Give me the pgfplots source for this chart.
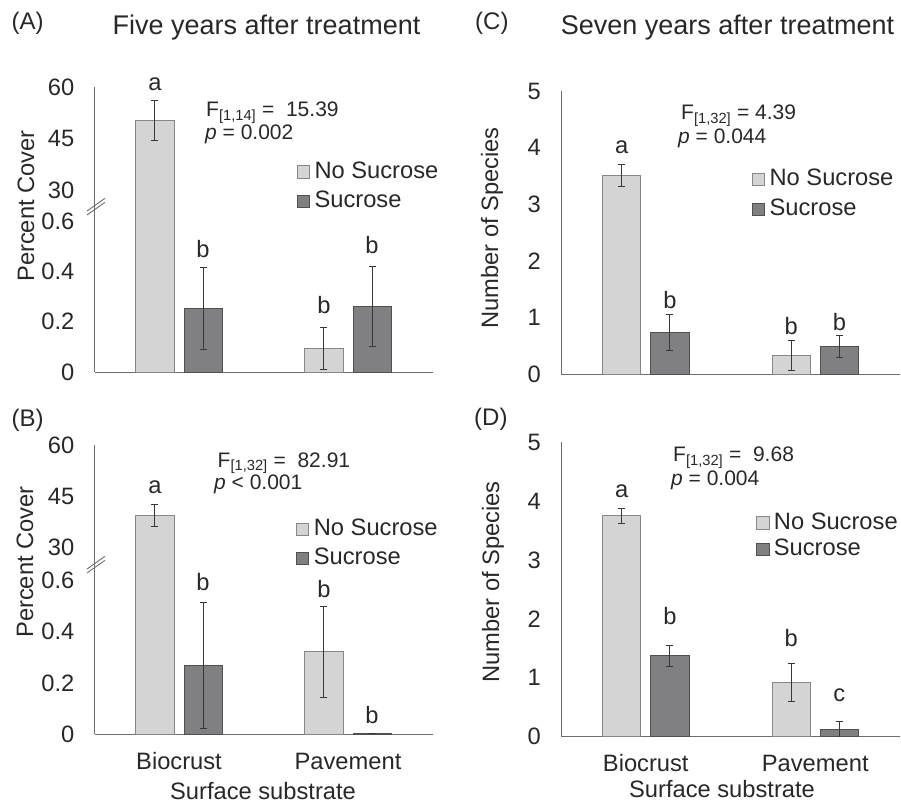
\documentclass[border=0pt]{standalone}
\usepackage{pgfplots}
\usepackage{pgfplotstable}
\pgfplotsset{compat=1.18}
\usepackage{fontspec}
\setmainfont{Liberation Sans}
\definecolor{lightfill}{RGB}{212,212,212}
\definecolor{lightedge}{RGB}{135,135,135}
\definecolor{darkfill}{RGB}{128,128,130}
\definecolor{darkedge}{RGB}{80,80,80}
\definecolor{axisgray}{RGB}{110,110,110}
\definecolor{txt}{RGB}{40,40,40}
\definecolor{errc}{RGB}{55,55,55}
\newcommand\fs{\fontsize{23.7}{28}\selectfont}
\newcommand\fst{\fontsize{21}{25}\selectfont}
\newcommand\fsT{\fontsize{27}{32}\selectfont}
\newcommand\fsP{\fontsize{24}{28}\selectfont}

% Panel A: five years, percent cover
\pgfplotstableread{
x y e
0 50.2 5.8
1 0.094 0.082
}\ANo
\pgfplotstableread{
x y e
0 0.253 0.162
1 0.262 0.160
}\ASu
% Panel B: seven years, percent cover
\pgfplotstableread{
x y e
0 39.2 3.2
1 0.322 0.177
}\BNo
\pgfplotstableread{
x y e
0 0.269 0.247
1 0.003 0.0
}\BSu
% Panel C: five years, number of species
\pgfplotstableread{
x y e
0 3.50 0.195
1 0.33 0.26
}\CNo
\pgfplotstableread{
x y e
0 0.74 0.318
1 0.48 0.195
}\CSu
% Panel D: seven years, number of species
\pgfplotstableread{
x y e
0 3.75 0.13
1 0.92 0.32
}\DNo
\pgfplotstableread{
x y e
0 1.37 0.18
1 0.12 0.135
}\DSu

\tikzset{lett/.style={anchor=base, inner sep=0pt, font=\fs, text=txt}}
\pgfplotsset{
  base/.style={
    scale only axis, anchor=south west,
    xmin=-0.5, xmax=1.5,
    ybar, bar width=0.2255,
    axis line style={draw=axisgray, line width=1pt, -},
    major tick length=0pt,
    tick style={draw=none},
    ticklabel style={font=\fs, text=txt},
    yticklabel style={anchor=east, inner sep=0pt, xshift=-20pt},
    xticklabel style={anchor=base, inner sep=0pt, yshift=-35pt},
    /pgf/number format/assume math mode=true,
    clip mode=individual,
    xtick=\empty,
  },
  lower/.style={base, axis x line*=bottom, axis y line*=left},
  upper/.style={base, axis x line=none, axis y line*=left},
  leg/.style={legend style={at={#1}, anchor=north west, draw=none, fill=none,
      inner sep=0pt, outer sep=0pt, column sep=4.5pt, font=\fs, text=txt,
      cells={anchor=base west}, nodes={inner sep=0pt, text height=17pt, text depth=0pt}}},
  nos/.style={fill=lightfill, draw=lightedge, line width=0.9pt, bar shift=-0.1424,
    legend image code/.code={\draw[##1] (0pt,0pt) rectangle (12.5pt,12.5pt);},
    error bars/.cd, y dir=both, y explicit,
    error bar style={draw=errc, line width=0.9pt},
    error mark options={rotate=90, draw=errc, line width=0.9pt, mark size=3.5pt}},
  suc/.style={fill=darkfill, draw=darkedge, line width=0.9pt, bar shift=0.1424,
    legend image code/.code={\draw[##1] (0pt,0pt) rectangle (12.5pt,12.5pt);},
    error bars/.cd, y dir=both, y explicit,
    error bar style={draw=errc, line width=0.9pt},
    error mark options={rotate=90, draw=errc, line width=0.9pt, mark size=3.5pt}},
}

\begin{document}
\begin{tikzpicture}
\useasboundingbox (0,0) rectangle (901pt,804pt);

% ================= Panel A (lower part) =================
\begin{axis}[lower, at={(94.5pt,432pt)}, width=338pt, height=160.64pt,
  ymin=0, ymax=0.64, ytick={0,0.2,0.4,0.6}, yticklabels={0,0.2,0.4,0.6},
  leg={(0.598,1.3116)}, legend style={row sep=11.7pt}]
\addplot[nos] table[x=x, y=y, y error=e] {\ANo};
\addplot[suc] table[x=x, y=y, y error=e] {\ASu};
\legend{No Sucrose, Sucrose}
\node[lett] at (axis cs:0.1424,0.458) {b};
\node[lett] at (axis cs:0.8576,0.233) {b};
\node[lett] at (axis cs:1.1424,0.472) {b};
\end{axis}
% Panel A (upper part, above the axis break)
\begin{scope}
\clip (0pt,582.6pt) rectangle (450pt,804pt);
\begin{axis}[upper, at={(94.5pt,548.27pt)}, width=338pt, height=168.73pt,
  ymin=10.85, ymax=60, ytick={30,45,60}, yticklabels={30,45,60},
  restrict y to domain=20:100]
\addplot[nos] table[x=x, y=y, y error=e] {\ANo};
\node[lett] at (axis cs:-0.1424,58.9) {a};
\end{axis}
\end{scope}

% ================= Panel B (lower part) =================
\begin{axis}[lower, at={(94.5pt,70pt)}, width=338pt, height=163.52pt,
  ymin=0, ymax=0.64, ytick={0,0.2,0.4,0.6}, yticklabels={0,0.2,0.4,0.6},
  xtick={0,1}, xticklabels={Biocrust,Pavement},
  leg={(0.596,1.3166)}, legend style={row sep=11.3pt}]
\addplot[nos] table[x=x, y=y, y error=e] {\BNo};
\addplot[suc] table[x=x, y=y, y error=e] {\BSu};
\legend{No Sucrose, Sucrose}
\node[lett] at (axis cs:0.1424,0.56) {b};
\node[lett] at (axis cs:0.8576,0.533) {b};
\node[lett] at (axis cs:1.1424,0.042) {b};
\end{axis}
% Panel B (upper part, above the axis break)
\begin{scope}
\clip (0pt,223.3pt) rectangle (450pt,400pt);
\begin{axis}[upper, at={(94.5pt,189.26pt)}, width=338pt, height=169.74pt,
  ymin=10.14, ymax=60, ytick={30,45,60}, yticklabels={30,45,60},
  restrict y to domain=20:100]
\addplot[nos] table[x=x, y=y, y error=e] {\BNo};
\node[lett] at (axis cs:-0.1424,45.7) {a};
\end{axis}
\end{scope}

% ================= Panel C =================
\begin{axis}[lower, at={(561pt,430pt)}, width=339pt, height=283pt,
  ymin=0, ymax=5, ytick={0,1,2,3,4,5},
  leg={(0.5625,0.7254)}, legend style={row sep=12.3pt}]
\addplot[nos] table[x=x, y=y, y error=e] {\CNo};
\addplot[suc] table[x=x, y=y, y error=e] {\CSu};
\legend{No Sucrose, Sucrose}
\node[lett] at (axis cs:-0.1424,3.887) {a};
\node[lett] at (axis cs:0.1424,1.16) {b};
\node[lett] at (axis cs:0.8576,0.69) {b};
\node[lett] at (axis cs:1.1424,0.777) {b};
\end{axis}

% ================= Panel D =================
\begin{axis}[lower, at={(561pt,67.4pt)}, width=339pt, height=294.6pt,
  ymin=0, ymax=5, ytick={0,1,2,3,4,5},
  xtick={0,1}, xticklabels={Biocrust,Pavement},
  leg={(0.5752,0.7614)}, legend style={row sep=8.7pt}]
\addplot[nos] table[x=x, y=y, y error=e] {\DNo};
\addplot[suc] table[x=x, y=y, y error=e] {\DSu};
\legend{No Sucrose, Sucrose}
\node[lett] at (axis cs:-0.1424,4.06) {a};
\node[lett] at (axis cs:0.1424,1.895) {b};
\node[lett] at (axis cs:0.8576,1.526) {b};
\node[lett] at (axis cs:1.1424,0.593) {c};
\end{axis}

% axis break marks
\draw[axisgray, line width=0.9pt] (87pt,593pt) -- (105pt,605.7pt);
\draw[axisgray, line width=0.9pt] (87pt,589pt) -- (105pt,601.7pt);
\draw[axisgray, line width=0.9pt] (87pt,235pt) -- (105pt,247.7pt);
\draw[axisgray, line width=0.9pt] (87pt,231pt) -- (105pt,243.7pt);

% titles and panel labels
\node[anchor=base, font=\fsT, text=txt, inner sep=0pt] at (266.5pt,769.7pt) {Five years after treatment};
\node[anchor=base, font=\fsT, text=txt, inner sep=0pt] at (727.5pt,769.7pt) {Seven years after treatment};
\node[anchor=base west, font=\fsP, text=txt, inner sep=0pt] at (11.5pt,774pt) {(A)};
\node[anchor=base west, font=\fsP, text=txt, inner sep=0pt] at (475pt,774pt) {(C)};
\node[anchor=base west, font=\fsP, text=txt, inner sep=0pt] at (11.5pt,377.3pt) {(B)};
\node[anchor=base west, font=\fsP, text=txt, inner sep=0pt] at (474pt,378.3pt) {(D)};

% axis labels
\node[rotate=90, font=\fs, text=txt, inner sep=0pt] at (26pt,598pt) {Percent Cover};
\node[rotate=90, font=\fs, text=txt, inner sep=0pt] at (25pt,242pt) {Percent Cover};
\node[rotate=90, font=\fs, text=txt, inner sep=0pt] at (492pt,576pt) {Number of Species};
\node[rotate=90, font=\fs, text=txt, inner sep=0pt] at (493pt,222pt) {Number of Species};
\node[anchor=base, font=\fs, text=txt, inner sep=0pt] at (263pt,4.5pt) {Surface substrate};
\node[anchor=base, font=\fs, text=txt, inner sep=0pt] at (722pt,6.5pt) {Surface substrate};

% statistics
\node[anchor=base west, font=\fst, text=txt, inner sep=0pt] at (206pt,687.3pt) {F\textsubscript{[1,14]} =\ \ 15.39};
\node[anchor=base west, font=\fst, text=txt, inner sep=0pt] at (205pt,664pt) {\textit{p} = 0.002};
\node[anchor=base west, font=\fst, text=txt, inner sep=0pt] at (217.5pt,336.7pt) {F\textsubscript{[1,32]} =\ \ 82.91};
\node[anchor=base west, font=\fst, text=txt, inner sep=0pt] at (214pt,314.7pt) {\textit{p} < 0.001};
\node[anchor=base west, font=\fst, text=txt, inner sep=0pt] at (681pt,684pt) {F\textsubscript{[1,32]} = 4.39};
\node[anchor=base west, font=\fst, text=txt, inner sep=0pt] at (678pt,660.7pt) {\textit{p} = 0.044};
\node[anchor=base west, font=\fst, text=txt, inner sep=0pt] at (673pt,342.3pt) {F\textsubscript{[1,32]} =\ \ 9.68};
\node[anchor=base west, font=\fst, text=txt, inner sep=0pt] at (671pt,319pt) {\textit{p} = 0.004};
\end{tikzpicture}
\end{document}
